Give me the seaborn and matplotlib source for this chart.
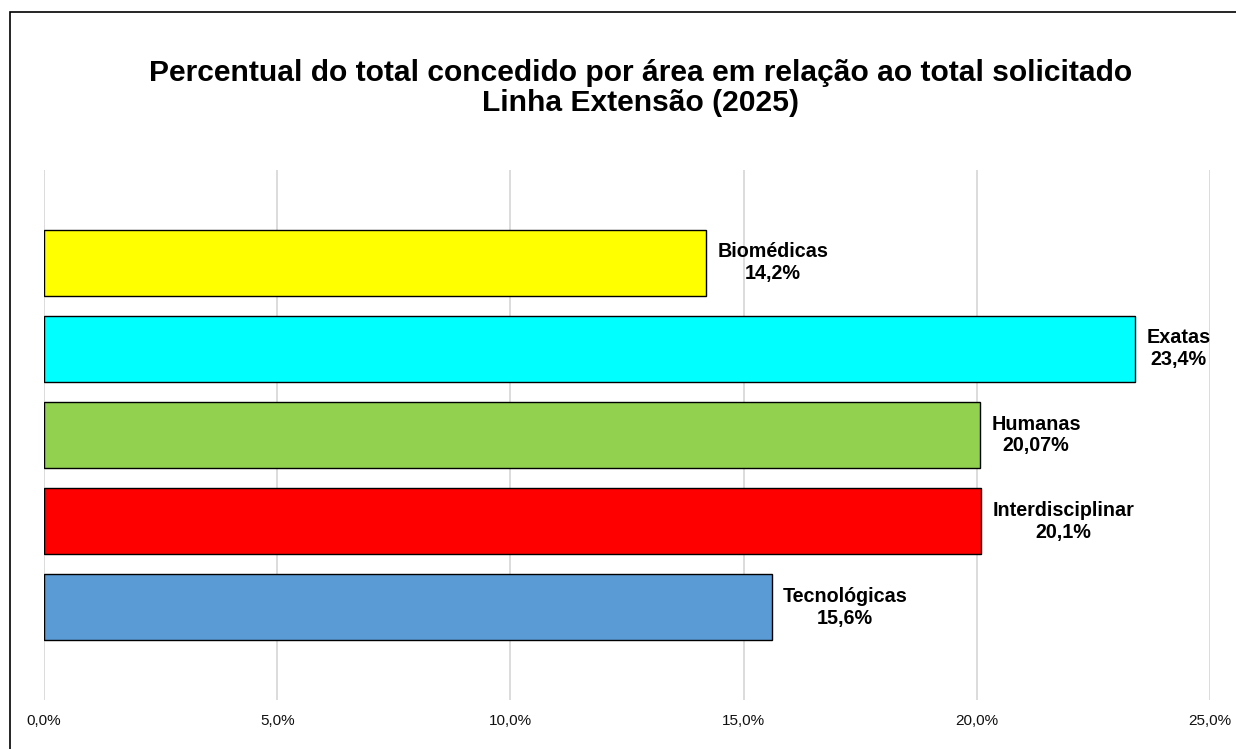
import matplotlib
matplotlib.use("Agg")
import matplotlib.pyplot as plt
import matplotlib.patches as mpatches
from matplotlib.ticker import FuncFormatter
import pandas as pd
import seaborn as sns

# data
areas = ["Biomédicas", "Exatas", "Humanas", "Interdisciplinar", "Tecnológicas"]
percent = [14.2, 23.4, 20.07, 20.1, 15.6]
value_labels = ["14,2%", "23,4%", "20,07%", "20,1%", "15,6%"]
bar_colors = ["#FFFF00", "#00FFFF", "#92D050", "#FF0000", "#5B9BD5"]

df = pd.DataFrame({"area": areas, "pct": percent})

sns.set_style("white")
plt.rcParams["font.family"] = ["Liberation Sans", "DejaVu Sans"]
plt.rcParams["text.color"] = "black"

fig = plt.figure(figsize=(12.36, 7.49), dpi=100)
ax = fig.add_axes([44 / 1236, 1 - 700 / 749, (1210 - 44) / 1236, (700 - 170) / 749])

sns.barplot(data=df, x="pct", y="area", hue="area", palette=bar_colors,
            saturation=1, orient="h", width=0.767, edgecolor="black",
            linewidth=1.0, legend=False, ax=ax, dodge=False)

ax.set_xlim(0, 25)
ax.set_ylim(4 + 1.08, -1.08)
ax.set_xticks([0, 5, 10, 15, 20, 25])
ax.xaxis.set_major_formatter(FuncFormatter(lambda v, p: f"{v:.1f}".replace(".", ",") + "%"))
ax.tick_params(axis="x", length=0, pad=10, labelsize=11, labelcolor="#111111")
ax.set_yticks([])
ax.set_xlabel("")
ax.set_ylabel("")
ax.grid(axis="x", color="#D9D9D9", linewidth=1.3)
ax.set_axisbelow(True)
for s in ax.spines.values():
    s.set_visible(False)

for i, (v, lab) in enumerate(zip(percent, value_labels)):
    ax.annotate(f"{areas[i]}\n{lab}", xy=(v, i), xytext=(8, 0),
                textcoords="offset points", ha="left", va="center",
                multialignment="center", fontsize=14.2, fontweight="bold",
                linespacing=1.2, color="black", annotation_clip=False)

fig.text(641 / 1236, 1 - 88 / 749,
         "Percentual do total concedido por área em relação ao total solicitado\nLinha Extensão (2025)",
         ha="center", va="center", fontsize=21.6, fontweight="bold",
         linespacing=1.05, color="black")

# outer frame of the chart area
fig.patches.append(mpatches.Rectangle((10 / 1236, -0.05), 1.1, 1 - 12 / 749 + 0.05,
                                      transform=fig.transFigure, fill=False,
                                      edgecolor="black", linewidth=1.2))

fig.savefig("out.png", dpi=100)
